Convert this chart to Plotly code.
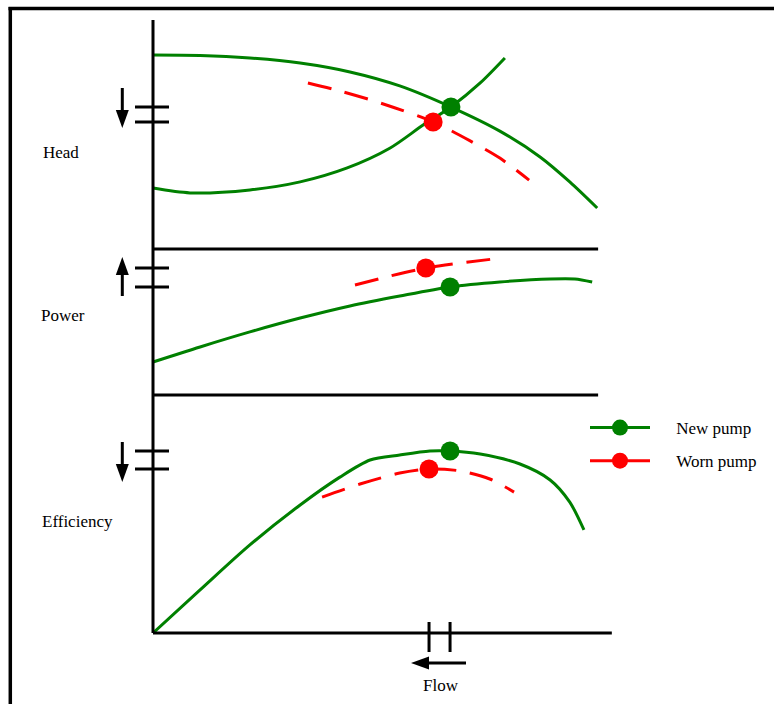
import math
import plotly.graph_objects as go

W, H = 774, 704

# Flow (shared x), arbitrary units
FLOW_RANGE = [-33.479, 135.886]

# Head panel: new pump curve, system curve, worn pump curve
head_new_q = [0, 10.3, 21.2, 32.2, 43.1, 54.0, 65.2, 75.9, 84.7, 91.2, 97.2]
head_new_h = [84.7, 84.5, 83.4, 81.2, 77.3, 71.2, 62.0, 51.5, 40.2, 29.3, 17.9]
system_q = [0, 8.1, 21.2, 32.2, 42.5, 51.9, 59.1, 65.2, 71.6, 77.0]
system_h = [26.6, 24.5, 25.8, 29.3, 35.4, 44.1, 54.1, 62.0, 72.5, 83.4]
head_worn_q = [33.9, 40.9, 49.7, 61.3, 69.4, 75.9, 82.3]
head_worn_h = [72.5, 69.0, 63.8, 55.5, 47.2, 39.7, 30.1]

# Power panel
power_new_q = [0, 10.3, 21.2, 32.2, 43.1, 54.0, 65.0, 75.9, 86.9, 92.3, 96.1]
power_new_p = [22.6, 32.9, 43.2, 52.7, 61.0, 67.8, 74.0, 77.4, 79.5, 79.5, 77.4]
power_worn_q = [44.2, 51.9, 59.7, 67.2, 74.6]
power_worn_p = [75.3, 81.5, 87.0, 90.4, 93.2]

# Efficiency panel
eff_new_q = [0, 10.3, 21.2, 32.2, 40.9, 47.5, 54.0, 60.6, 65.0, 71.6, 80.3, 86.9, 91.2, 94.3]
eff_new_e = [0, 18.1, 37.0, 53.8, 65.5, 72.7, 74.8, 76.5, 76.5, 75.2, 71.0, 64.3, 55.0, 43.3]
eff_worn_q = [37.0, 45.3, 54.0, 60.4, 67.2, 73.7, 79.0]
eff_worn_e = [57.1, 62.6, 67.2, 68.9, 68.1, 64.7, 59.2]

# Duty points (head, power, efficiency panels)
duty_new_q = [65.2, 65.0, 65.0]
duty_new_v = [62.0, 74.0, 76.5]
duty_worn_q = [61.3, 59.7, 60.4]
duty_worn_v = [55.5, 87.0, 68.9]

panel_names = ["Head", "Power", "Efficiency"]
series_names = ["New pump", "Worn pump"]

GREEN = "#008000"
RED = "#ff0000"
FONT = "Liberation Serif"
DASH = "24px,14px"


def px_x(p):
    return p / W


def px_y(p):
    return 1 - p / H


def flow_of(p):
    # pixel column -> flow units
    return FLOW_RANGE[0] + p / W * (FLOW_RANGE[1] - FLOW_RANGE[0])


fig = go.Figure()

axes = ["y", "y2", "y3"]


def curve(q, v, yaxis, color, dash="solid"):
    fig.add_trace(go.Scatter(
        x=q, y=v, xaxis="x", yaxis=yaxis, mode="lines",
        line=dict(color=color, width=3, dash=dash, shape="spline", smoothing=0.8),
        showlegend=False, hoverinfo="skip"))


curve(head_new_q, head_new_h, "y", GREEN)
curve(system_q, system_h, "y", GREEN)
curve(head_worn_q, head_worn_h, "y", RED, DASH)
curve(power_new_q, power_new_p, "y2", GREEN)
curve(power_worn_q, power_worn_p, "y2", RED, DASH)
curve(eff_new_q, eff_new_e, "y3", GREEN)
curve(eff_worn_q, eff_worn_e, "y3", RED, DASH)

# Duty points, one legend entry per pump
for qs, vs, color, name in [(duty_new_q, duty_new_v, GREEN, series_names[0]),
                            (duty_worn_q, duty_worn_v, RED, series_names[1])]:
    for i, ax in enumerate(axes):
        fig.add_trace(go.Scatter(
            x=[qs[i]], y=[vs[i]], xaxis="x", yaxis=ax, mode="lines+markers",
            line=dict(color=color, width=3),
            marker=dict(color=color, size=19),
            name="\u00a0" * 5 + name, legendgroup=name,
            showlegend=(i == 2), hoverinfo="skip", cliponaxis=False))

shapes = []
line_k = dict(color="black", width=3)

# frame
shapes.append(dict(type="line", xref="paper", yref="paper",
                   x0=px_x(8.5), x1=1, y0=px_y(8.5), y1=px_y(8.5), line=dict(color="black", width=3.5)))
shapes.append(dict(type="line", xref="paper", yref="paper",
                   x0=px_x(10.3), x1=px_x(10.3), y0=px_y(7), y1=0, line=dict(color="black", width=3.5)))

# axes
shapes.append(dict(type="line", xref="x", yref="paper", x0=0, x1=0,
                   y0=px_y(20), y1=px_y(633), line=line_k))
shapes.append(dict(type="line", xref="x", yref="paper", x0=0, x1=97.4,
                   y0=px_y(249), y1=px_y(249), line=line_k))
shapes.append(dict(type="line", xref="x", yref="paper", x0=0, x1=97.4,
                   y0=px_y(395), y1=px_y(395), line=line_k))
shapes.append(dict(type="line", xref="x", yref="paper", x0=0, x1=100.4,
                   y0=px_y(633), y1=px_y(633), line=line_k))

# shift ticks on each vertical axis at the duty-point values
tick_x0, tick_x1 = flow_of(135), flow_of(169)
for i, ax in enumerate(axes):
    for v in (duty_new_v[i], duty_worn_v[i]):
        shapes.append(dict(type="line", xref="x", yref=ax, x0=tick_x0, x1=tick_x1,
                           y0=v, y1=v, line=line_k))
# shift ticks on the flow axis
for q in (duty_new_q[2], duty_worn_q[2]):
    shapes.append(dict(type="line", xref="x", yref="paper", x0=q, x1=q,
                       y0=px_y(622), y1=px_y(652), line=line_k))


def arrow(x0, y0, x1, y1, head_len=18, head_w=13):
    # arrow from (x0,y0) to tip (x1,y1), pixel positions
    dx, dy = x1 - x0, y1 - y0
    L = math.hypot(dx, dy)
    ux, uy = dx / L, dy / L
    bx, by = x1 - ux * head_len, y1 - uy * head_len
    nx, ny = -uy, ux
    shapes.append(dict(type="line", xref="paper", yref="paper",
                       x0=px_x(x0), y0=px_y(y0), x1=px_x(bx + ux * 2), y1=px_y(by + uy * 2), line=line_k))
    path = "M{},{} L{},{} L{},{} Z".format(
        px_x(x1), px_y(y1),
        px_x(bx + nx * head_w / 2), px_y(by + ny * head_w / 2),
        px_x(bx - nx * head_w / 2), px_y(by - ny * head_w / 2))
    shapes.append(dict(type="path", xref="paper", yref="paper", path=path,
                       fillcolor="black", line=dict(color="black", width=0)))


arrow(122.3, 88, 122.3, 128)   # head falls
arrow(122.3, 296, 122.3, 257)  # power rises
arrow(122.3, 442, 122.3, 482)  # efficiency falls
arrow(466, 663, 411, 663)      # flow falls

annotations = []
label_pos = [(61, 153), (63, 315), (77, 521)]
for name, (lx, ly) in zip(panel_names, label_pos):
    annotations.append(dict(text=name, xref="paper", yref="paper", x=px_x(lx), y=px_y(ly),
                            showarrow=False, xanchor="center", yanchor="middle",
                            font=dict(family=FONT, size=17, color="black")))
annotations.append(dict(text="Flow", xref="paper", yref="paper", x=px_x(441), y=px_y(685),
                        showarrow=False, xanchor="center", yanchor="middle",
                        font=dict(family=FONT, size=17, color="black")))

fig.update_layout(
    width=W, height=H,
    margin=dict(l=0, r=0, t=0, b=0),
    paper_bgcolor="white", plot_bgcolor="rgba(0,0,0,0)",
    xaxis=dict(domain=[0, 1], range=FLOW_RANGE, visible=False, fixedrange=True, anchor="y3"),
    yaxis=dict(domain=[px_y(249), px_y(20)], range=[0, 100], visible=False, fixedrange=True, anchor="x"),
    yaxis2=dict(domain=[px_y(395), px_y(249)], range=[0, 100], visible=False, fixedrange=True, anchor="x"),
    yaxis3=dict(domain=[px_y(633), px_y(395)], range=[0, 100], visible=False, fixedrange=True, anchor="x"),
    shapes=shapes,
    annotations=annotations,
    showlegend=True,
    legend=dict(x=px_x(585), y=px_y(410), xanchor="left", yanchor="top",
                itemwidth=60, tracegroupgap=8, bgcolor="rgba(0,0,0,0)",
                font=dict(family=FONT, size=17, color="black")),
)

fig.write_html("out.html")
